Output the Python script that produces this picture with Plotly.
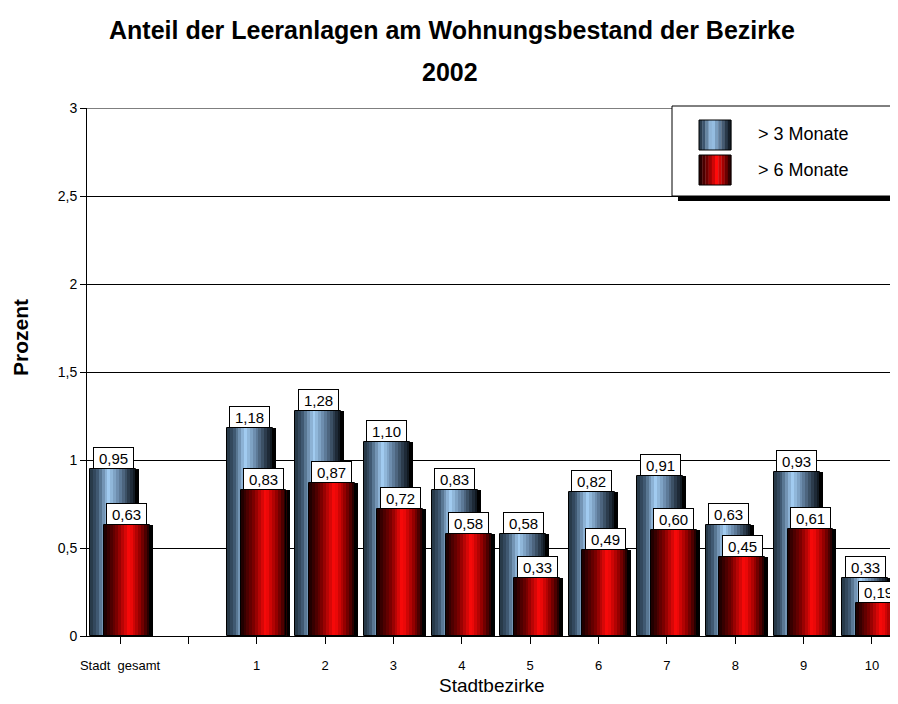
import plotly.graph_objects as go

# Daten
categories = ["Stadt  gesamt", "", "1", "2", "3", "4", "5", "6", "7", "8", "9", "10"]
monate_3 = [0.95, None, 1.18, 1.28, 1.10, 0.83, 0.58, 0.82, 0.91, 0.63, 0.93, 0.33]
monate_6 = [0.63, None, 0.83, 0.87, 0.72, 0.58, 0.33, 0.49, 0.60, 0.45, 0.61, 0.19]
series_names = ["> 3 Monate", "> 6 Monate"]

FONT = "Liberation Sans, Arial, sans-serif"
# the page adds an 8px body margin; the figure starts at (8, 8)
OFF = 8
W, H = 898 - OFF, 704 - 2 * OFF
L, R, T, B = 87 - OFF, 0, 108 - OFF, 704 - 636 - OFF
PX_PER_CAT = 68.36

BAR_W = 0.67
N_STRIPS = 16

blue_stops = [(0, "#22323f"), (0.15, "#3d566f"), (0.4, "#a3cdf2"),
              (0.62, "#6786a6"), (0.85, "#2a3a4b"), (1, "#0b1016")]
red_stops = [(0, "#160000"), (0.28, "#7a0000"), (0.55, "#ff0a0a"),
             (0.78, "#960000"), (1, "#160000")]


def hex2rgb(h):
    h = h.lstrip("#")
    return tuple(int(h[i:i + 2], 16) for i in (0, 2, 4))


def grad(stops, t):
    for (t0, c0), (t1, c1) in zip(stops, stops[1:]):
        if t0 <= t <= t1:
            f = (t - t0) / (t1 - t0) if t1 > t0 else 0
            a, b = hex2rgb(c0), hex2rgb(c1)
            return "rgb(%d,%d,%d)" % tuple(round(a[k] + (b[k] - a[k]) * f) for k in range(3))
    return stops[-1][1]


xs = list(range(len(categories)))
fig = go.Figure()


def add_series(values, stops, shift, name):
    base = shift - BAR_W / 2
    # schwarzer Schatten rechts
    fig.add_trace(go.Bar(x=xs, y=values, width=BAR_W, offset=base + 0.045,
                         marker=dict(color="black", line=dict(width=0)),
                         showlegend=False, hoverinfo="skip"))
    sw = BAR_W / N_STRIPS
    for i in range(N_STRIPS):
        fig.add_trace(go.Bar(x=xs, y=values, width=sw * 1.05, offset=base + i * sw,
                             marker=dict(color=grad(stops, (i + 0.5) / N_STRIPS), line=dict(width=0)),
                             showlegend=False, name=name,
                             hovertemplate=name + ": %{y}<extra></extra>"))
    fig.add_trace(go.Bar(x=xs, y=values, width=BAR_W, offset=base,
                         marker=dict(color="rgba(0,0,0,0)", line=dict(color="black", width=1)),
                         showlegend=False, hoverinfo="skip"))


add_series(monate_3, blue_stops, -0.1, series_names[0])
add_series(monate_6, red_stops, 0.1, series_names[1])

# Wertebeschriftungen
annotations = []
for vals, shift in ((monate_3, -0.1), (monate_6, 0.1)):
    for x, v in zip(xs, vals):
        if v is None:
            continue
        annotations.append(dict(
            x=x + shift, y=v, xref="x", yref="y", yanchor="bottom", yshift=0,
            text=("%.2f" % v).replace(".", ","), showarrow=False,
            font=dict(family=FONT, size=15, color="black"),
            bgcolor="white", bordercolor="black", borderwidth=1, borderpad=1,
            width=37, height=18))


def px_x(p):
    # reference pixel -> paper coordinate
    return (p - OFF - L) / (W - L - R)


def px_y(p):
    return (H - B - (p - OFF)) / (H - T - B)


# Titel
annotations.append(dict(x=px_x(452), y=px_y(30), xref="paper", yref="paper",
                        text="<b>Anteil der Leeranlagen am Wohnungsbestand der Bezirke</b>",
                        showarrow=False, xanchor="center", yanchor="middle",
                        font=dict(family=FONT, size=25, color="black")))
annotations.append(dict(x=px_x(450), y=px_y(72), xref="paper", yref="paper",
                        text="<b>2002</b>", showarrow=False, xanchor="center", yanchor="middle",
                        font=dict(family=FONT, size=25, color="black")))
# y-Achsentitel
annotations.append(dict(x=px_x(20), y=px_y(338), xref="paper", yref="paper",
                        text="<b>Prozent</b>", showarrow=False, textangle=-90,
                        xanchor="center", yanchor="middle",
                        font=dict(family=FONT, size=21, color="black")))
# x-Achsentitel
annotations.append(dict(x=px_x(492), y=px_y(685), xref="paper", yref="paper",
                        text="Stadtbezirke", showarrow=False,
                        xanchor="center", yanchor="middle",
                        font=dict(family=FONT, size=19, color="black")))

# obere Rasterlinie bei 3
shapes = [dict(type="line", xref="paper", yref="y", x0=0, x1=1, y0=3, y1=3,
               line=dict(color="black", width=1))]

# Legende (manuell, mit Farbverlauf)
shapes.append(dict(type="rect", xref="paper", yref="paper", layer="above",
                   x0=px_x(678), x1=px_x(905), y0=px_y(201), y1=px_y(112),
                   fillcolor="black", line=dict(width=0)))
shapes.append(dict(type="rect", xref="paper", yref="paper", layer="above",
                   x0=px_x(672), x1=px_x(905), y0=px_y(196), y1=px_y(106),
                   fillcolor="white", line=dict(color="black", width=1)))
for stops, (y0, y1) in ((blue_stops, (150, 120)), (red_stops, (185, 155))):
    n = 10
    for i in range(n):
        shapes.append(dict(type="rect", xref="paper", yref="paper", layer="above",
                           x0=px_x(699 + i * 3.2), x1=px_x(699 + (i + 1) * 3.2 + 0.3),
                           y0=px_y(y0), y1=px_y(y1),
                           fillcolor=grad(stops, (i + 0.5) / n), line=dict(width=0)))
    shapes.append(dict(type="rect", xref="paper", yref="paper", layer="above",
                       x0=px_x(699), x1=px_x(731), y0=px_y(y0), y1=px_y(y1),
                       line=dict(color="black", width=1)))
for name, yc in zip(series_names, (134, 170)):
    annotations.append(dict(x=px_x(756), y=px_y(yc), xref="paper", yref="paper",
                            text=name, showarrow=False, xanchor="left", yanchor="middle",
                            font=dict(family=FONT, size=18, color="black")))

x0 = -33 / PX_PER_CAT
fig.update_layout(
    width=W, height=H,
    margin=dict(l=L, r=R, t=T, b=B),
    barmode="overlay",
    bargap=0,
    paper_bgcolor="white", plot_bgcolor="white",
    separators=",.",
    showlegend=False,
    font=dict(family=FONT, color="black"),
    annotations=annotations,
    shapes=shapes,
    xaxis=dict(
        range=[x0, x0 + (W - L - R) / PX_PER_CAT],
        tickmode="array", tickvals=xs, ticktext=categories,
        showgrid=False, zeroline=False,
        showline=True, linecolor="black", linewidth=1,
        ticks="outside", ticklen=7, tickcolor="black",
        ticklabelstandoff=10,
        tickfont=dict(family=FONT, size=13, color="black"),
    ),
    yaxis=dict(
        range=[0, 3], dtick=0.5,
        showgrid=True, gridcolor="black", gridwidth=1,
        zeroline=False,
        showline=True, linecolor="black", linewidth=1,
        ticks="outside", ticklen=6, tickcolor="black",
        tickfont=dict(family=FONT, size=14, color="black"),
    ),
)

fig.write_html("out.html")
